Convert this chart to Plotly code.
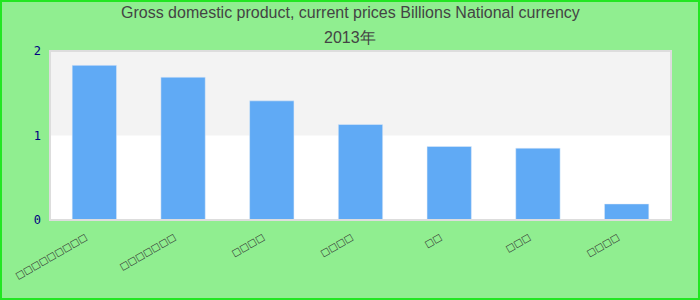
import plotly.graph_objects as go

categories = ["□□□□□□□□□", "□□□□□□□", "□□□□", "□□□□", "□□", "□□□", "□□□□"]
values = [1.83, 1.69, 1.41, 1.13, 0.87, 0.85, 0.19]
y_ticks = [0, 1, 2]
title_lines = ["Gross domestic product, current prices Billions National currency", "2013年"]

W, H = 700, 300
ml, mr, mt, mb = 50, 29, 51, 80
pw, ph = W - ml - mr, H - mt - mb

positions = list(range(len(categories)))
fig = go.Figure(go.Bar(x=positions, y=values, marker_color="#60aaf5", width=0.5))

fig.update_layout(
    width=W, height=H,
    margin=dict(l=ml, r=mr, t=mt, b=mb),
    paper_bgcolor="#90ee90",
    plot_bgcolor="white",
    showlegend=False,
)
for i, line in enumerate(title_lines):
    fig.add_annotation(text=line, xref="paper", yref="paper", x=(W / 2 - ml) / pw,
                       y=1 + (mt - 13 - 24 * i) / ph, xanchor="center", yanchor="middle",
                       showarrow=False,
                       font=dict(family="Liberation Sans, Arial", size=16, color="#444"))

fig.update_xaxes(range=[-0.5, len(categories) - 0.5], tickvals=positions, ticktext=categories,
                 tickangle=-30, showgrid=False, zeroline=False, ticks="",
                 ticklabelstandoff=9, ticklabelshift=-9, automargin=False,
                 tickfont=dict(family="DejaVu Sans", size=9.5, color="#333"))
fig.update_yaxes(range=[0, 2], tickvals=y_ticks, showgrid=False, zeroline=False,
                 ticks="", ticklabelstandoff=8, automargin=False,
                 tickfont=dict(family="DejaVu Sans Mono", size=12, color="#000080"))

fig.add_shape(type="rect", xref="paper", yref="y", x0=0, x1=1, y0=1, y1=2,
              fillcolor="#f3f3f3", line_width=0, layer="below")
fig.add_shape(type="rect", xref="paper", yref="paper", x0=0, x1=1, y0=0, y1=1,
              line=dict(color="#dddddd", width=2), fillcolor="rgba(0,0,0,0)")
fig.add_shape(type="rect", xref="paper", yref="paper",
              x0=-ml / pw + 1 / pw, x1=1 + mr / pw - 1 / pw,
              y0=-mb / ph + 1 / ph, y1=1 + mt / ph - 1 / ph,
              line=dict(color="#22e622", width=2), fillcolor="rgba(0,0,0,0)")

fig.write_html("out.html")
